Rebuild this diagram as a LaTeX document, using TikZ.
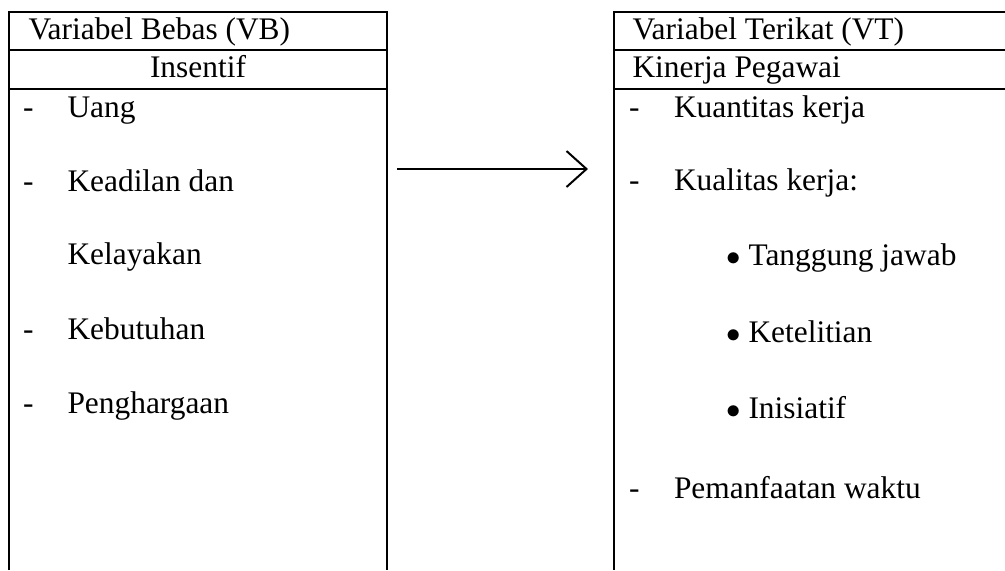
\documentclass[tikz,border=0pt]{standalone}
\usepackage{fontspec}
\setmainfont{Liberation Serif}
\usetikzlibrary{arrows.meta}
\begin{document}
\begin{tikzpicture}[x=0.5pt,y=-0.5pt,line width=1pt,
	txt/.style={anchor=base west,inner sep=0pt,font=\fontsize{15.7}{18}\selectfont}]
	\useasboundingbox (0,0) rectangle (1005,570);
	%Variabel bebas
	\draw (9,570) -- (9,12) coordinate (vbtl) -- (387,12) coordinate (vbtr) -- (387,570);
	\draw (9,50) -- (387,50);
	\draw (9,89) -- (387,89);
	\node[txt] (vbhead) at (27.5,39) {Variabel Bebas (VB)};
	\node[txt,anchor=base] (vbname) at (198,77) {Insentif};
	\node[txt] (vbd1) at (22,117) {-};
	\node[txt] (vb1) at (66.5,117) {Uang};
	\node[txt] (vbd2) at (22,191) {-};
	\node[txt] (vb2) at (66.5,191) {Keadilan dan};
	\node[txt] (vb2b) at (66.5,264) {Kelayakan};
	\node[txt] (vbd3) at (22,339) {-};
	\node[txt] (vb3) at (66.5,339) {Kebutuhan};
	\node[txt] (vbd4) at (22,413) {-};
	\node[txt] (vb4) at (66.5,413) {Penghargaan};
	%Variabel terikat
	\draw (614,570) -- (614,12) coordinate (vttl) -- (1010,12);
	\draw (614,50) -- (1010,50);
	\draw (614,89) -- (1010,89);
	\node[txt] (vthead) at (631.5,39) {Variabel Terikat (VT)};
	\node[txt] (vtname) at (631.5,77) {Kinerja Pegawai};
	\node[txt] (vtd1) at (628,117) {-};
	\node[txt] (vt1) at (673,117) {Kuantitas kerja};
	\node[txt] (vtd2) at (628,190) {-};
	\node[txt] (vt2) at (673,190) {Kualitas kerja:};
	\node[txt] (vtb1) at (725.5,265) {\makebox[11pt][l]{$\bullet$}Tanggung jawab};
	\node[txt] (vtb2) at (725.5,342) {\makebox[11pt][l]{$\bullet$}Ketelitian};
	\node[txt] (vtb3) at (725.5,418) {\makebox[11pt][l]{$\bullet$}Inisiatif};
	\node[txt] (vtd3) at (628,498) {-};
	\node[txt] (vt3) at (673,498) {Pemanfaatan waktu};
	%panah
	\coordinate (arrstart) at (397,169);
	\coordinate (arrend) at (588,169);
	\draw[-{Straight Barb[length=10pt,width=18pt]}] (arrstart) -- (arrend);
\end{tikzpicture}
\end{document}
